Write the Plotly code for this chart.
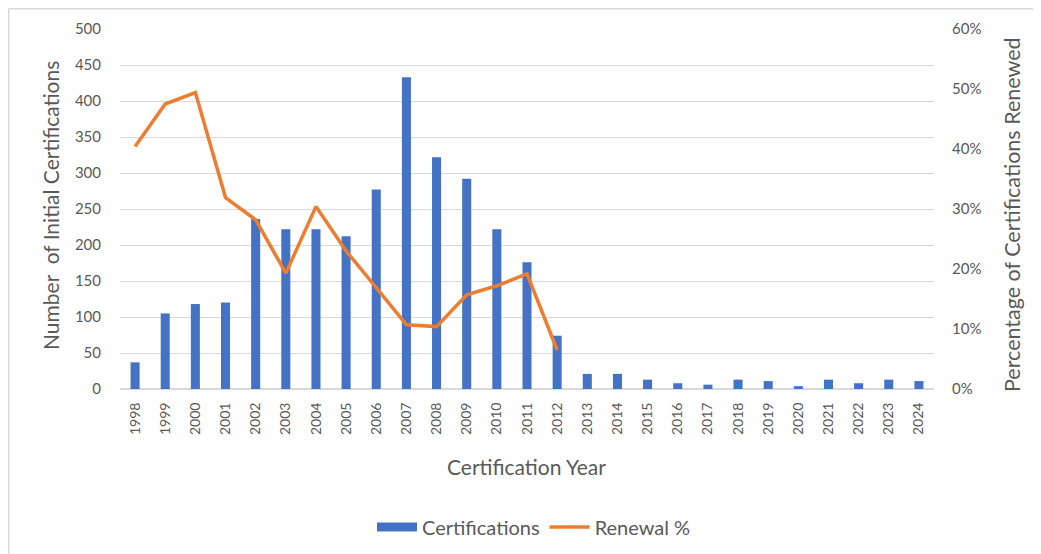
import plotly.graph_objects as go

years = [str(y) for y in range(1998, 2025)]
certifications = [37, 105, 118, 120, 236, 222, 222, 212, 277, 433, 322, 292, 222, 176, 74,
                  21, 21, 13, 8, 6, 13, 11, 4, 13, 8, 13, 11]
renewal_pct = [40.4, 47.5, 49.4, 31.9, 28.2, 19.3, 30.4, 23.0, 16.9, 10.7, 10.4, 15.7, 17.2, 19.2, 6.5,
               None, None, None, None, None, None, None, None, None, None, None, None]
left_ticks = list(range(0, 501, 50))
right_ticks = list(range(0, 61, 10))

OFF = 8  # page body margin
W, H = 1041 - OFF, 554 - OFF
ml, mt = 120 - OFF, 29 - OFF
pw, ph = 934 - 120, 389 - 29
mr, mb = W - ml - pw, H - mt - ph


def px_x(x):
    return (x - OFF - ml) / pw


def px_y(y):
    return 1 - (y - OFF - mt) / ph


FONT = "Lato"
GRAY = "#595959"
BLUE = "#4472C4"
ORANGE = "#ED7D31"

fig = go.Figure()
fig.add_trace(go.Bar(x=years, y=certifications, name="Certifications",
                     marker_color=BLUE, marker_line_width=0, yaxis="y", showlegend=False))
fig.add_trace(go.Scatter(x=[None], y=[None], name="Certifications", mode="lines",
                         line=dict(color=BLUE, width=9), yaxis="y", showlegend=True,
                         hoverinfo="skip"))
fig.add_trace(go.Scatter(x=years, y=renewal_pct, name="Renewal %", mode="lines",
                         line=dict(color=ORANGE, width=3.5), yaxis="y2",
                         connectgaps=False))

fig.update_layout(
    width=W, height=H,
    margin=dict(l=ml, r=mr, t=mt, b=mb, autoexpand=False),
    paper_bgcolor="white", plot_bgcolor="white",
    font=dict(family=FONT, color=GRAY, size=15),
    bargap=0.7,
    showlegend=True,
    legend=dict(orientation="h", x=px_x(534), xanchor="center",
                y=px_y(527), yanchor="middle",
                font=dict(size=20, color=GRAY), traceorder="normal",
                itemwidth=40),
    xaxis=dict(type="category", tickangle=-90, showgrid=False, zeroline=False,
               showline=False, ticks="outside", ticklen=7, tickcolor="rgba(0,0,0,0)",
               tickfont=dict(size=14, color=GRAY)),
    yaxis=dict(range=[0, 500], tickvals=left_ticks, showgrid=True, gridcolor="#D9D9D9",
               gridwidth=1, zeroline=True, zerolinecolor="#D9D9D9", showline=False,
               ticks="outside", ticklen=15, tickcolor="rgba(0,0,0,0)",
               tickfont=dict(size=15, color=GRAY)),
    yaxis2=dict(range=[0, 60], tickvals=right_ticks, ticktext=[f"{v}%" for v in right_ticks],
                overlaying="y", side="right", showgrid=False, zeroline=False, showline=False,
                ticks="outside", ticklen=14, tickcolor="rgba(0,0,0,0)",
                tickfont=dict(size=15, color=GRAY)),
)

fig.add_annotation(text="Number  of Initial Certifications", textangle=-90,
                   xref="paper", yref="paper", x=px_x(50), y=px_y(206),
                   xanchor="center", yanchor="middle", showarrow=False,
                   font=dict(size=21, color=GRAY))
fig.add_annotation(text="Percentage of Certifications Renewed", textangle=-90,
                   xref="paper", yref="paper", x=px_x(1012), y=px_y(215),
                   xanchor="center", yanchor="middle", showarrow=False,
                   font=dict(size=21.5, color=GRAY))
fig.add_annotation(text="Certification Year",
                   xref="paper", yref="paper", x=px_x(526), y=px_y(467),
                   xanchor="center", yanchor="middle", showarrow=False,
                   font=dict(size=21, color=GRAY))

# chart frame (left and top edges visible)
fx = px_x(OFF + 0.75)
fy = px_y(OFF + 0.75)
fig.add_shape(type="line", xref="paper", yref="paper",
              x0=fx, x1=fx, y0=px_y(560), y1=fy,
              line=dict(color="#D9D9D9", width=1.5))
fig.add_shape(type="line", xref="paper", yref="paper",
              x0=fx, x1=px_x(1045), y0=fy, y1=fy,
              line=dict(color="#D9D9D9", width=1.5))

fig.write_html("out.html")
